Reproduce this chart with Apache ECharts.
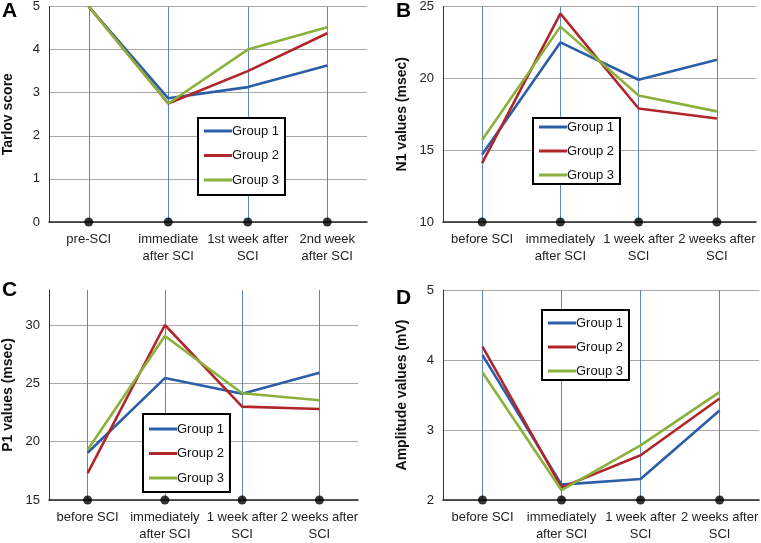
<!DOCTYPE html>
<html>
<head>
<meta charset="utf-8">
<script src="https://cdn.jsdelivr.net/npm/echarts@6/dist/echarts.min.js"></script>
<style>
html,body{margin:0;padding:0;background:#fff;}
#chart{width:761px;height:543px;}
</style>
</head>
<body>
<div id="chart"></div>
<script>
// ---- data ----
const catsA = ['pre-SCI', 'immediate\nafter SCI', '1st week after\nSCI', '2nd week\nafter SCI'];
const catsBCD = ['before SCI', 'immediately\nafter SCI', '1 week after\nSCI', '2 weeks after\nSCI'];
const groups = ['Group 1', 'Group 2', 'Group 3'];

const tarlovG1 = [5, 2.87, 3.13, 3.63];
const tarlovG2 = [5, 2.75, 3.5, 4.38];
const tarlovG3 = [5, 2.75, 4.0, 4.52];

const n1G1 = [14.7, 22.5, 19.9, 21.3];
const n1G2 = [14.1, 24.5, 17.9, 17.2];
const n1G3 = [15.7, 23.6, 18.8, 17.7];

const p1G1 = [19.05, 25.45, 24.1, 25.9];
const p1G2 = [17.3, 30.0, 23.0, 22.8];
const p1G3 = [19.3, 29.06, 24.15, 23.55];

const ampG1 = [4.07, 2.22, 2.3, 3.28];
const ampG2 = [4.19, 2.18, 2.64, 3.45];
const ampG3 = [3.82, 2.14, 2.78, 3.54];

const yTicksA = [0, 1, 2, 3, 4, 5];
const yTicksB = [10, 15, 20, 25];
const yTicksC = [15, 20, 25, 30];
const yTicksD = [2, 3, 4, 5];

const panels = [
  {letter: 'A', cats: catsA, series: [tarlovG1, tarlovG2, tarlovG3], ticks: yTicksA, min: 0, max: 5, name: 'Tarlov score',
   grid: {left: 48, top: 5, width: 319, height: 217}, legendPos: {left: 198, top: 118}, legendPad: [6, 6, 8, 6], legendGap: 10.5, letterPos: [2, 1]},
  {letter: 'B', cats: catsBCD, series: [n1G1, n1G2, n1G3], ticks: yTicksB, min: 10, max: 25, name: 'N1 values (msec)',
   grid: {left: 443, top: 5, width: 313, height: 217}, legendPos: {left: 533, top: 118}, legendPad: [2, 6, 2, 6], legendGap: 10, letterPos: [396, 1]},
  {letter: 'C', cats: catsBCD, series: [p1G1, p1G2, p1G3], ticks: yTicksC, min: 15, max: 33, name: 'P1 values (msec)',
   grid: {left: 47, top: 290, width: 311, height: 217}, legendPos: {left: 143, top: 414}, legendPad: [8, 6, 7, 6], legendGap: 10.5, letterPos: [2, 280]},
  {letter: 'D', cats: catsBCD, series: [ampG1, ampG2, ampG3], ticks: yTicksD, min: 2, max: 5, name: 'Amplitude values (mV)',
   grid: {left: 443, top: 290, width: 318, height: 216}, legendPos: {left: 542, top: 310}, legendPad: [6, 6, 2, 6], legendGap: 10, letterPos: [396, 288]}
];

const colors = ['#2c5ea8', '#b0262b', '#89b13b'];
const FONT = 'Liberation Sans, Arial, sans-serif';

const option = {
  animation: false,
  backgroundColor: '#fff',
  textStyle: {fontFamily: FONT},
  grid: [], xAxis: [], yAxis: [], series: [], legend: [], graphic: []
};

panels.forEach((p, i) => {
  option.grid.push(Object.assign({containLabel: false}, p.grid));
  option.xAxis.push({
    type: 'category', gridIndex: i, data: p.cats, boundaryGap: true,
    axisLine: {show: true, lineStyle: {color: '#222', width: 1.5}},
    axisTick: {show: false},
    splitLine: {show: false},
    axisLabel: {color: '#222', fontSize: 13, fontFamily: FONT, margin: 9, lineHeight: 17, interval: 0}
  });
  option.yAxis.push({
    type: 'value', gridIndex: i, min: p.min, max: p.max,
    name: p.name, nameLocation: 'middle', nameGap: 34,
    nameTextStyle: {fontWeight: 'bold', fontSize: 14, color: '#111', fontFamily: FONT},
    axisLine: {show: true, lineStyle: {color: '#333', width: 1}},
    axisTick: {show: false, customValues: p.ticks},
    axisLabel: {color: '#222', fontSize: 13, fontFamily: FONT, margin: 9, customValues: p.ticks},
    splitLine: {show: true, lineStyle: {color: '#a8a8a8', width: 1}}
  });
  p.series.forEach((vals, k) => {
    const s = {
      type: 'line', name: groups[k], xAxisIndex: i, yAxisIndex: i, data: vals,
      symbol: 'none', lineStyle: {color: colors[k], width: 2.6}, itemStyle: {color: colors[k]}, z: 3
    };
    if (k === 0) {
      s.markLine = {
        silent: true, symbol: 'none', z: 1, animation: false,
        label: {show: false},
        lineStyle: {color: '#5a86c4', width: 1, type: 'solid'},
        data: p.cats.map(c => ({xAxis: c}))
      };
    }
    option.series.push(s);
  });
  option.series.push({
    type: 'scatter', name: 'dots' + i, xAxisIndex: i, yAxisIndex: i, clip: false,
    data: p.cats.map(c => [c, p.min]), symbol: 'circle', symbolSize: 9,
    itemStyle: {color: '#000'}, z: 5, silent: true
  });
  option.legend.push({
    data: groups.map(g => ({name: g, icon: 'rect'})), orient: 'vertical', left: p.legendPos.left, top: p.legendPos.top,
    borderColor: '#000', borderWidth: 2, backgroundColor: '#fff',
    padding: p.legendPad, itemGap: p.legendGap, itemWidth: 28, itemHeight: 3,
    textStyle: {fontSize: 13, color: '#111', fontFamily: FONT, lineHeight: 14, padding: [0, 0, 0, -5]},
    selectedMode: false
  });
  option.graphic.push({
    type: 'text', left: p.letterPos[0], top: p.letterPos[1],
    style: {text: p.letter, font: 'bold 21px ' + FONT, fill: '#000'}
  });
});

const chart = echarts.init(document.getElementById('chart'), null, {renderer: 'canvas'});
chart.setOption(option);
</script>
</body>
</html>
